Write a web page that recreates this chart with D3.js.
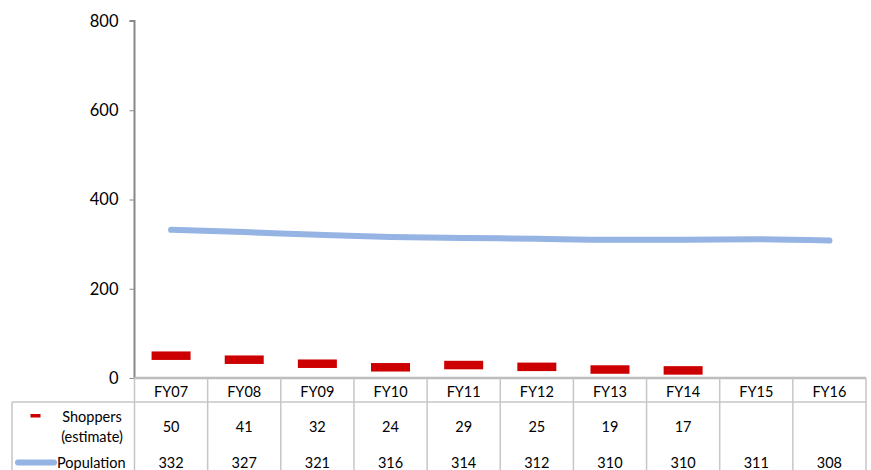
<!DOCTYPE html>
<html>
<head>
<meta charset="utf-8">
<script src="https://cdn.jsdelivr.net/npm/d3@7"></script>
<style>
  html, body { margin: 0; padding: 0; background: #fff; }
  svg { display: block; }
  text { font-family: Lato, "Open Sans", sans-serif; fill: #000; }
</style>
</head>
<body>
<svg id="chart" width="871" height="470"></svg>
<script>
// Fiscal years shown along the category axis
const categories = ["FY07", "FY08", "FY09", "FY10", "FY11", "FY12", "FY13", "FY14", "FY15", "FY16"];
// Estimated shoppers (no estimate for FY15 and FY16)
const shoppers = [50, 41, 32, 24, 29, 25, 19, 17, null, null];
// Population
const population = [332, 327, 321, 316, 314, 312, 310, 310, 311, 308];
// Value axis ticks
const yTicks = [0, 200, 400, 600, 800];

const seriesNames = { shoppers: ["Shoppers", "(estimate)"], population: "Population" };

const svg = d3.select("#chart");
const W = 871, H = 470;
const plot = { left: 134.5, right: 866, top: 21, bottom: 378 };

const x = d3.scaleBand().domain(categories).range([plot.left, plot.right]).padding(0);
const y = d3.scaleLinear().domain([0, 800]).range([plot.bottom, plot.top]);

const gridColor = "#c6c6c6";
const axisColor = "#888888";
const shopperColor = "#cc0000";
const popColor = "#95b3e3";

// Value axis
const yAxis = d3.axisLeft(y).tickValues(yTicks).tickSize(5).tickPadding(11);
const gy = svg.append("g").attr("transform", `translate(${plot.left},0)`).call(yAxis);
gy.select(".domain").attr("stroke", axisColor).attr("stroke-width", 2).attr("d", `M-5,${y(800)}H0V${y(0)}`);
gy.selectAll(".tick line").attr("stroke", axisColor);
gy.selectAll(".tick text").style("font-size", "16.5px").style("font-family", "Lato, sans-serif").attr("fill", "#000");

// Data table grid
const rowHeader = { top: plot.bottom, bottom: 402 };
const tableBottom = H + 2;
const tableLeft = 12;
const grid = svg.append("g").attr("stroke", gridColor).attr("stroke-width", 1.5).attr("fill", "none");
// category axis line / table top
grid.append("line").attr("x1", plot.left).attr("x2", plot.right).attr("y1", rowHeader.top).attr("y2", rowHeader.top).attr("stroke-width", 2.5).attr("stroke", "#bdbdbd");
// line under header row
grid.append("line").attr("x1", tableLeft).attr("x2", plot.right).attr("y1", rowHeader.bottom).attr("y2", rowHeader.bottom);
// table left border
grid.append("line").attr("x1", tableLeft).attr("x2", tableLeft).attr("y1", rowHeader.bottom).attr("y2", tableBottom);
// column separators
const bounds = categories.map(c => x(c)).concat([x(categories[categories.length - 1]) + x.bandwidth()]);
grid.selectAll("line.col").data(bounds).enter().append("line")
  .attr("class", "col")
  .attr("x1", d => d).attr("x2", d => d)
  .attr("y1", rowHeader.top).attr("y2", tableBottom);

const cx = c => x(c) + x.bandwidth() / 2;
const tableFont = "14.5px";

// header row: category names
svg.append("g").selectAll("text").data(categories).enter().append("text")
  .attr("x", cx).attr("y", 391).attr("text-anchor", "middle").attr("dominant-baseline", "central")
  .style("font-size", tableFont).text(d => d);

// shoppers row
svg.append("g").selectAll("text").data(categories.map((c, i) => ({ c, v: shoppers[i] })).filter(d => d.v != null))
  .enter().append("text")
  .attr("x", d => cx(d.c)).attr("y", 426.5).attr("text-anchor", "middle").attr("dominant-baseline", "central")
  .style("font-size", tableFont).text(d => d.v);

// population row
svg.append("g").selectAll("text").data(categories.map((c, i) => ({ c, v: population[i] })))
  .enter().append("text")
  .attr("x", d => cx(d.c)).attr("y", 462).attr("text-anchor", "middle").attr("dominant-baseline", "central")
  .style("font-size", tableFont).text(d => d.v);

// row legend keys
svg.append("rect").attr("x", 30.5).attr("y", 414).attr("width", 10).attr("height", 3.5).attr("fill", shopperColor);
svg.append("text").attr("x", 92).attr("y", 416).attr("text-anchor", "middle").attr("dominant-baseline", "central")
  .style("font-size", tableFont).text(seriesNames.shoppers[0]);
svg.append("text").attr("x", 92).attr("y", 436.5).attr("text-anchor", "middle").attr("dominant-baseline", "central")
  .style("font-size", tableFont).text(seriesNames.shoppers[1]);
svg.append("line").attr("x1", 18).attr("x2", 54).attr("y1", 462.5).attr("y2", 462.5)
  .attr("stroke", popColor).attr("stroke-width", 6).attr("stroke-linecap", "round");
svg.append("text").attr("x", 57).attr("y", 462).attr("text-anchor", "start").attr("dominant-baseline", "central")
  .style("font-size", tableFont).text(seriesNames.population);

// population line
const line = d3.line()
  .x(d => cx(d.c))
  .y(d => y(d.v))
  .curve(d3.curveMonotoneX);
svg.append("path")
  .datum(categories.map((c, i) => ({ c, v: population[i] })))
  .attr("d", line)
  .attr("fill", "none")
  .attr("stroke", popColor)
  .attr("stroke-width", 6)
  .attr("stroke-linecap", "round");

// shopper dash markers
const markW = 39, markH = 8.5;
svg.append("g").selectAll("rect")
  .data(categories.map((c, i) => ({ c, v: shoppers[i] })).filter(d => d.v != null))
  .enter().append("rect")
  .attr("x", d => cx(d.c) - markW / 2)
  .attr("y", d => y(d.v) - markH / 2)
  .attr("width", markW)
  .attr("height", markH)
  .attr("fill", shopperColor);
</script>
</body>
</html>
